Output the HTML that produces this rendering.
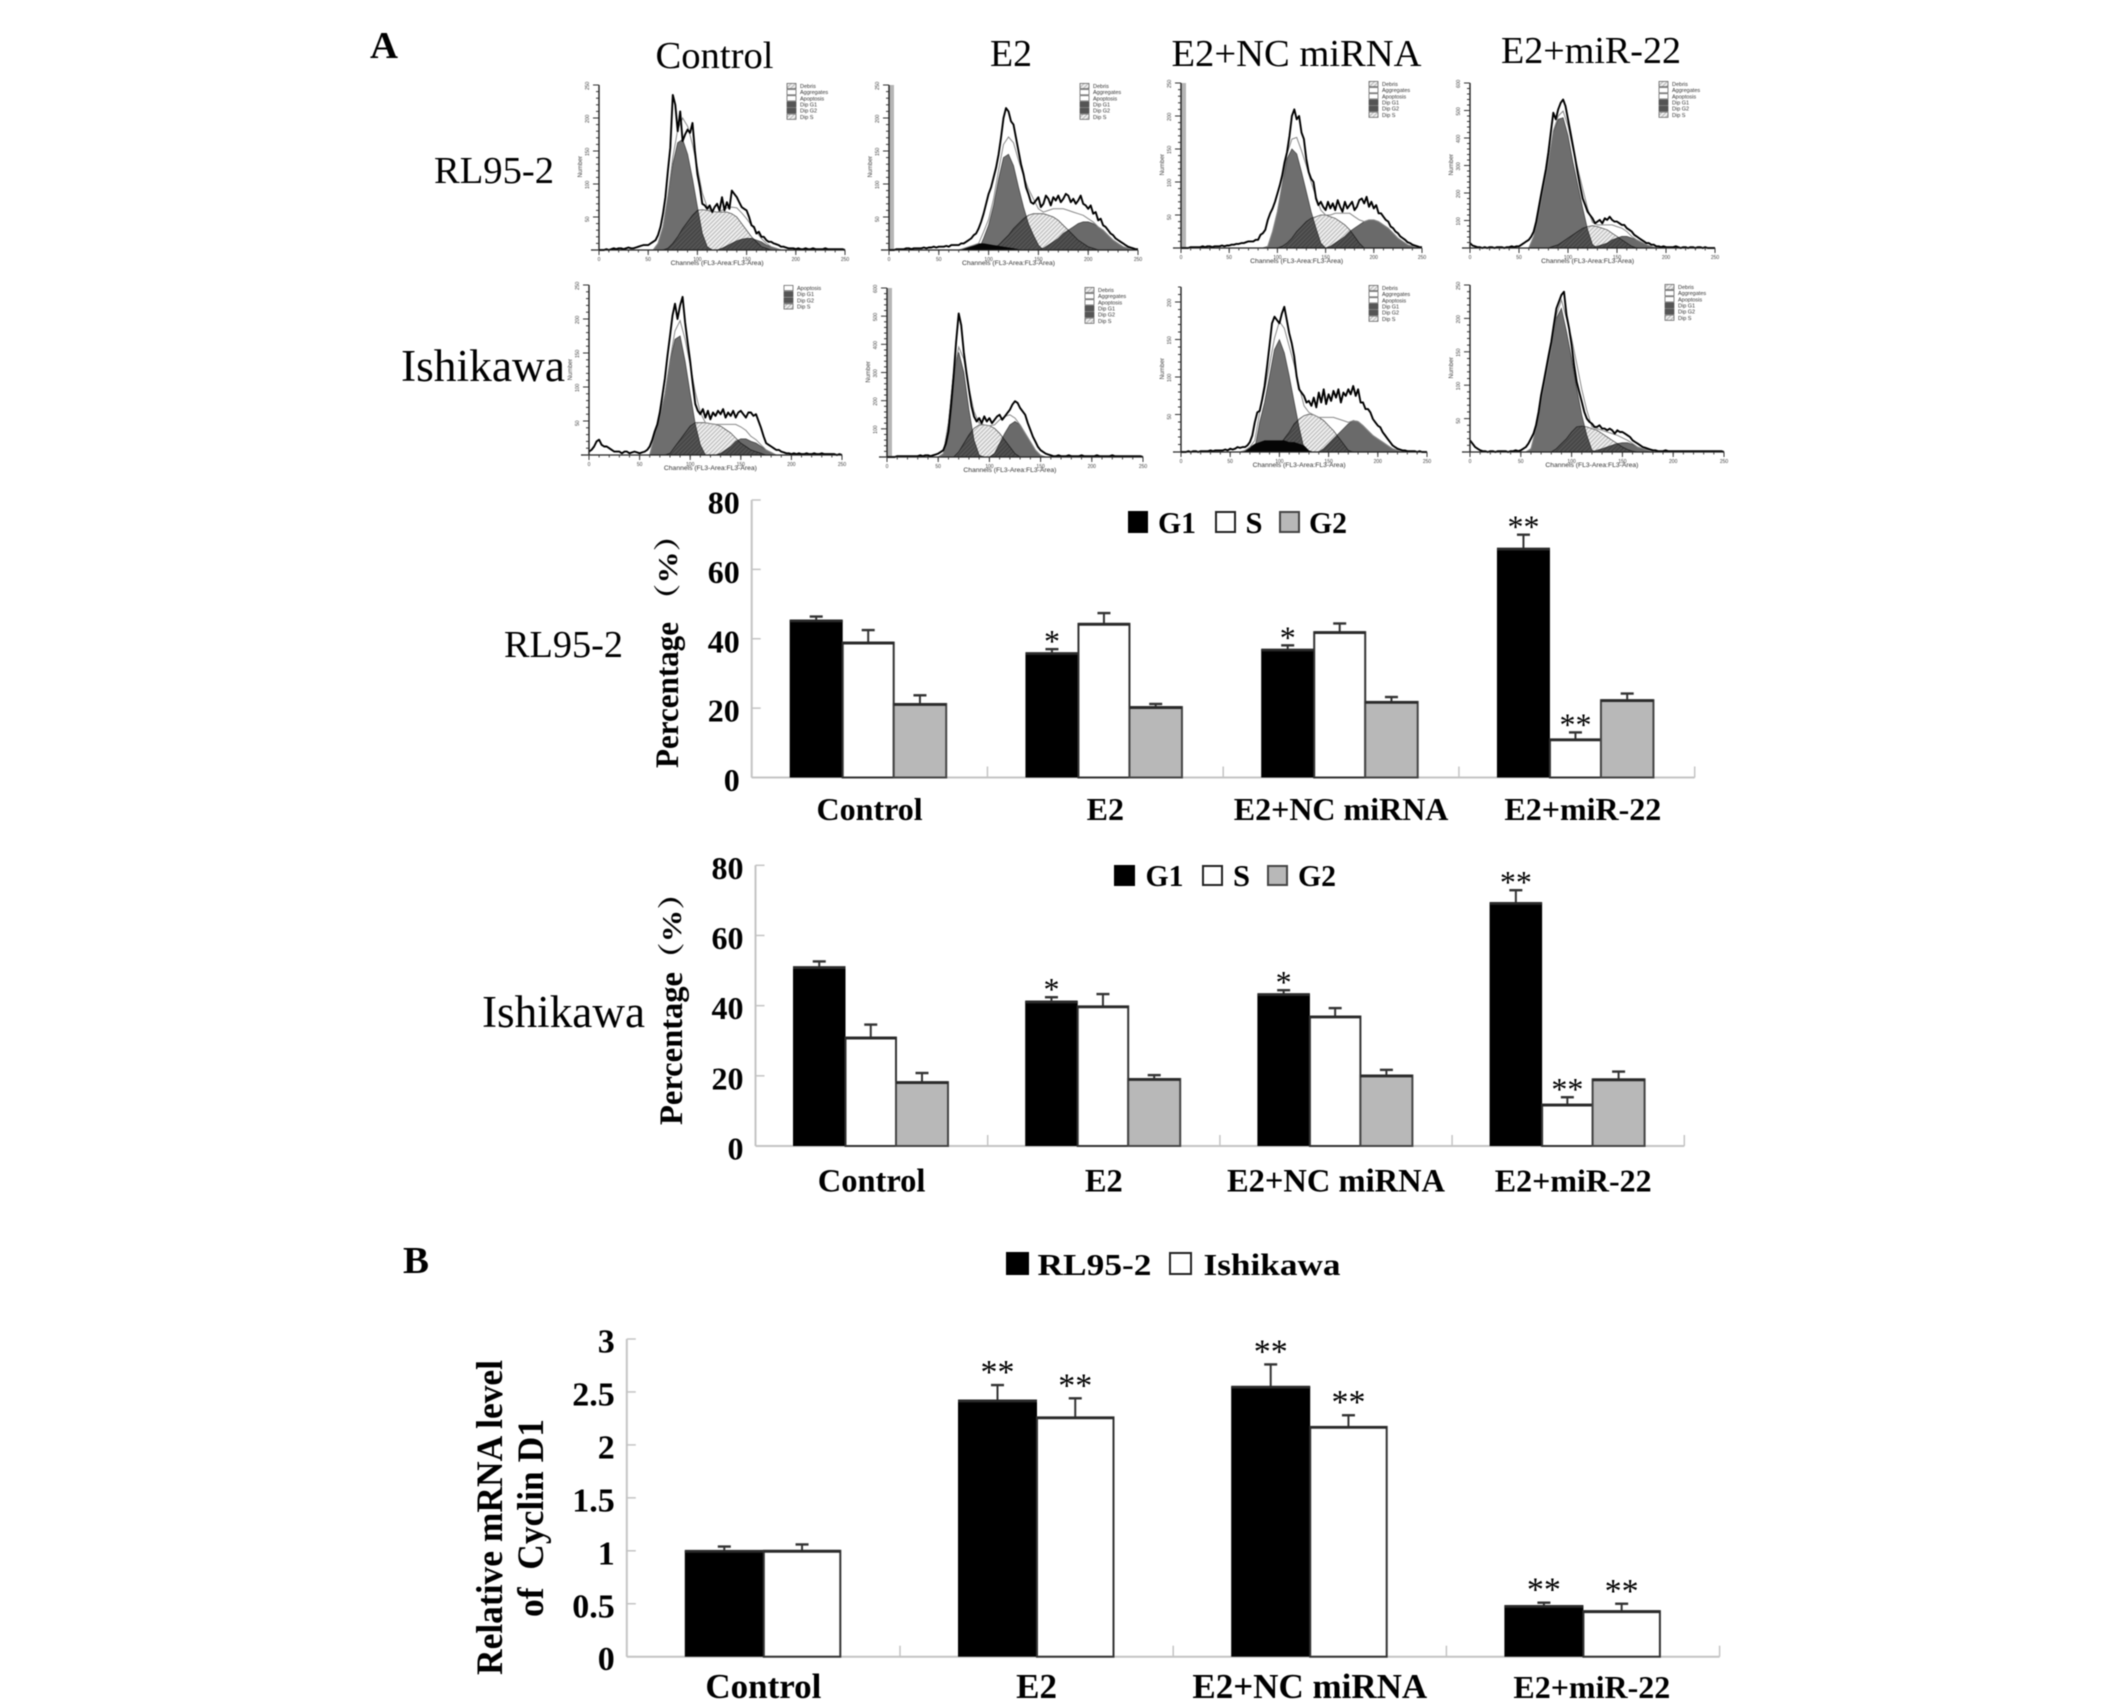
<!DOCTYPE html>
<html lang="en">
<head>
<meta charset="utf-8">
<title>Cell cycle and Cyclin D1 figure</title>
<style>
html,body{margin:0;padding:0;background:#fff;}
#figure{display:block;width:2126px;height:1708px;background:#fff;filter:blur(0.55px);}
text{font-family:"Liberation Serif","Noto Serif CJK SC",serif;fill:#000;}
.lbl{font-size:38px;}
.big{font-size:45px;}
.pl{font-size:38px;font-weight:bold;}
.bold{font-weight:bold;font-size:31px;}
.ytitle{font-weight:bold;font-size:33px;}
.yunit{font-weight:bold;font-size:27px;}
.ytall{font-weight:bold;font-size:37px;}
</style>
</head>
<body>
<svg id="figure" xmlns="http://www.w3.org/2000/svg" width="2126" height="1708" viewBox="0 0 2126 1708">
<defs>
<pattern id="hatch" patternUnits="userSpaceOnUse" width="3" height="3" patternTransform="rotate(45)">
<rect width="3" height="3" fill="#f2f2f2"/>
<rect width="1.2" height="3" fill="#bcbcbc"/>
</pattern>
</defs>
<rect x="0" y="0" width="2126" height="1708" fill="#fff"/>

<text class="pl" x="370" y="58" textLength="28" lengthAdjust="spacingAndGlyphs">A</text>
<text class="pl" x="403" y="1273" textLength="26" lengthAdjust="spacingAndGlyphs">B</text>

<text class="lbl" x="655.5" y="68" textLength="118" lengthAdjust="spacingAndGlyphs">Control</text>
<text class="lbl" x="990" y="66" textLength="42" lengthAdjust="spacingAndGlyphs">E2</text>
<text class="lbl" x="1171.5" y="66" textLength="250" lengthAdjust="spacingAndGlyphs">E2+NC miRNA</text>
<text class="lbl" x="1501" y="63" textLength="180" lengthAdjust="spacingAndGlyphs">E2+miR-22</text>

<text class="lbl" x="434" y="183" textLength="120" lengthAdjust="spacingAndGlyphs">RL95-2</text>
<text class="big" x="401" y="381" textLength="164" lengthAdjust="spacingAndGlyphs">Ishikawa</text>
<text class="lbl" x="504" y="657" textLength="119" lengthAdjust="spacingAndGlyphs">RL95-2</text>
<text class="big" x="482" y="1027" textLength="163" lengthAdjust="spacingAndGlyphs">Ishikawa</text>

<text class="ytitle" transform="translate(678,768) rotate(-90)" textLength="146" lengthAdjust="spacingAndGlyphs">Percentage</text>
<text class="yunit" transform="translate(677,616) rotate(-90)" textLength="97" lengthAdjust="spacingAndGlyphs">（%）</text>
<text class="ytitle" transform="translate(682,1125) rotate(-90)" textLength="153" lengthAdjust="spacingAndGlyphs">Percentage</text>
<text class="yunit" transform="translate(681,975) rotate(-90)" textLength="98" lengthAdjust="spacingAndGlyphs">（%）</text>
<text class="ytall" transform="translate(502,1675) rotate(-90)" textLength="315" lengthAdjust="spacingAndGlyphs">Relative mRNA level</text>
<text class="ytall" transform="translate(543,1617) rotate(-90)" textLength="198" lengthAdjust="spacingAndGlyphs" xml:space="preserve">of  Cyclin D1</text>

<g>
<rect x="1128" y="511" width="20" height="22" fill="#000"/>
<text class="bold" x="1158" y="533" textLength="38" lengthAdjust="spacingAndGlyphs">G1</text>
<rect x="1216" y="512" width="19" height="20" fill="#fff" stroke="#222" stroke-width="2"/>
<text class="bold" x="1245.5" y="533" textLength="17" lengthAdjust="spacingAndGlyphs">S</text>
<rect x="1280" y="512" width="19" height="20" fill="#b8b8b8" stroke="#444" stroke-width="2"/>
<text class="bold" x="1309" y="533" textLength="38" lengthAdjust="spacingAndGlyphs">G2</text>
</g>
<g>
<rect x="1114" y="865" width="21" height="21" fill="#000"/>
<text class="bold" x="1145.5" y="886" textLength="38" lengthAdjust="spacingAndGlyphs">G1</text>
<rect x="1203" y="866" width="19" height="19" fill="#fff" stroke="#222" stroke-width="2"/>
<text class="bold" x="1233" y="886" textLength="17" lengthAdjust="spacingAndGlyphs">S</text>
<rect x="1268" y="866" width="19" height="19" fill="#b8b8b8" stroke="#444" stroke-width="2"/>
<text class="bold" x="1298" y="886" textLength="38" lengthAdjust="spacingAndGlyphs">G2</text>
</g>
<g>
<rect x="1006" y="1252" width="23" height="23" fill="#000"/>
<text class="bold" x="1037.5" y="1275" textLength="114" lengthAdjust="spacingAndGlyphs">RL95-2</text>
<rect x="1170" y="1253" width="21" height="21" fill="#fff" stroke="#222" stroke-width="2"/>
<text class="bold" x="1203.5" y="1275" textLength="137" lengthAdjust="spacingAndGlyphs">Ishikawa</text>
</g>
</svg>

<script>
// ---------- Bar chart data: RL95-2 ----------
const rlCategories = ["Control", "E2", "E2+NC miRNA", "E2+miR-22"];
const rlTickValues = [0, 20, 40, 60, 80];
const rlTickLabels = ["0", "20", "40", "60", "80"];
const rlG1 = [45.3, 35.9, 36.9, 66];
const rlG1ErrTop = [46.4, 37, 38.1, 70];
const rlG1Stars = ["", "*", "*", "**"];
const rlS = [38.9, 44.3, 41.9, 11];
const rlSErrTop = [42.5, 47.4, 44.4, 13];
const rlSStars = ["", "", "", "**"];
const rlG2 = [21.2, 20.3, 21.8, 22.3];
const rlG2ErrTop = [23.7, 21.2, 23.2, 24.2];
const rlG2Stars = ["", "", "", ""];

// ---------- Bar chart data: Ishikawa ----------
const isCategories = ["Control", "E2", "E2+NC miRNA", "E2+miR-22"];
const isTickValues = [0, 20, 40, 60, 80];
const isTickLabels = ["0", "20", "40", "60", "80"];
const isG1 = [51, 41.2, 43.3, 69.3];
const isG1ErrTop = [52.6, 42.4, 44.4, 72.9];
const isG1Stars = ["", "*", "*", "**"];
const isS = [30.9, 39.8, 36.9, 11.8];
const isSErrTop = [34.6, 43.3, 39.3, 13.9];
const isSStars = ["", "", "", "**"];
const isG2 = [18.2, 19.1, 20.1, 19];
const isG2ErrTop = [20.8, 20.2, 21.7, 21.2];
const isG2Stars = ["", "", "", ""];

// ---------- Bar chart data: Cyclin D1 ----------
const cyCategories = ["Control", "E2", "E2+NC miRNA", "E2+miR-22"];
const cyTickValues = [0, 0.5, 1, 1.5, 2, 2.5, 3];
const cyTickLabels = ["0", "0.5", "1", "1.5", "2", "2.5", "3"];
const cyRl = [1, 2.42, 2.55, 0.48];
const cyRlErrTop = [1.04, 2.565, 2.76, 0.51];
const cyRlStars = ["", "**", "**", "**"];
const cyIs = [1, 2.26, 2.17, 0.43];
const cyIsErrTop = [1.06, 2.44, 2.28, 0.5];
const cyIsStars = ["", "**", "**", "**"];

// ---------- Flow histograms, % of axis height ----------
// Outlines: one value per 2.5 channels, channels 0..250. Fits: one value per 5 channels.
const p1Outline = [0,0,0,.5,0,.5,1,.5,1,1, .5,1,1.5,1,1,1.5,2,2.5,3,3, 3,4,5,6,9,14,22,32,48,62, 94,88,72,84,66,70,73,71,77,60, 46,38,28,27,25,27,23,26,28,24, 32,24,29,25,36,34,32,29,26,25, 24,20,15,14,10,11,8,8,6,5, 5,4,3.5,3,2,2,1.5,1,1,1, .5,1,.5,.5,1,.5,.5,1,.5,.5, .5,.5,1,.5,.5,.5,.5,.5,.5,.5, 0];
const p1G1 = [0,0,0,0,0,0,0,0,0,0, 0,0,4,14,32,52,65,67,58,43, 26,10,2,0,0,0,0,0,0,0, 0,0,0,0,0,0,0,0,0,0, 0,0,0,0,0,0,0,0,0,0, 0];
const p1S = [0,0,0,0,0,0,0,0,0,0, 0,0,0,0,1,4,8,13,17,21, 24,24.5,24,23.5,23,23,23,22,20,16, 12,8,5,2,1,0,0,0,0,0, 0,0,0,0,0,0,0,0,0,0, 0];
const p1G2 = [0,0,0,0,0,0,0,0,0,0, 0,0,0,0,0,0,0,0,0,0, 0,0,0,0,0,1,2.5,4,5.5,6.5, 7,7,6,5,3,2,1,0,0,0, 0,0,0,0,0,0,0,0,0,0, 0];

const p2Outline = [0,0,0,.5,.5,.5,.5,1,1,.5, 1,1,1,1,1.5,1,1.5,1.5,2,1.5, 2,2,2,2.5,2,3,3,3,3,4, 4,5,6,7,9,10,13,17,22,28, 34,38,44,50,58,68,80,86,84,78, 76,68,60,52,46,38,34,29,28,30, 32,26,28,33,31,27,32,30,33,29, 31,34,33,29,31,28,30,33,28,27, 25,27,22,23,18,19,15,14,12,10, 9,7,6,5,4,3,2,1.5,1,.5, .5];
const p2G1 = [0,0,0,0,0,0,0,0,0,0, 0,0,0,0,0,0,0,0,0,7, 15,27,43,56,58,51,38,26,16,9, 3,0,0,0,0,0,0,0,0,0, 0,0,0,0,0,0,0,0,0,0, 0];
const p2S = [0,0,0,0,0,0,0,0,0,0, 0,0,0,0,0,0,0,0,0,0, 0,1,3,6,9,13,16,19,21,22, 22,22,21,20,18,15,12,9,6,4, 2,1,0,0,0,0,0,0,0,0, 0];
const p2G2 = [0,0,0,0,0,0,0,0,0,0, 0,0,0,0,0,0,0,0,0,0, 0,0,0,0,0,0,0,0,0,0, 0,1,3,5,7,10,12,14,16,17, 17,16,14,12,9,6,4,2,1,0, 0];
const p2Debris = [0,0,0,0,0,0,0,0,0,0, 0,0,0,0,0,1,2,3,4,4, 3.5,3,2.5,2,1.5,1,.5,0,0,0, 0,0,0,0,0,0,0,0,0,0, 0,0,0,0,0,0,0,0,0,0, 0];

const p3Outline = [0,0,0,0,.5,.5,.5,.5,.5,1, .5,1,1,.5,1,1,1,1.5,1,1.5, 1.5,2,2,2.5,2.5,3,3,3.5,4,4, 4,5,5,8,9,11,17,21,24,28, 33,38,44,52,58,68,80,84,78,80, 70,66,54,46,42,40,30,26,28,25, 23,28,24,27,23,29,25,22,28,24, 26,28,23,25,29,30,27,31,25,28, 24,26,21,21,19,17,16,13,12,10, 9,7,6,5,3.5,3,2,1.5,1,.5, .5];
const p3G1 = [0,0,0,0,0,0,0,0,0,0, 0,0,0,0,0,0,0,0,1,10, 22,38,54,60,57,46,34,22,12,3, 0,0,0,0,0,0,0,0,0,0, 0,0,0,0,0,0,0,0,0,0, 0];
const p3S = [0,0,0,0,0,0,0,0,0,0, 0,0,0,0,0,0,0,0,0,0, 0,1,3,6,10,13,16,18,19,20, 20,19,18,16,14,11,7,3,0,0, 0,0,0,0,0,0,0,0,0,0, 0];
const p3G2 = [0,0,0,0,0,0,0,0,0,0, 0,0,0,0,0,0,0,0,0,0, 0,0,0,0,0,0,0,0,0,0, 0,1,3,5,7,10,12,14,16,17, 17,16,14,12,9,6,4,2,1,0, 0];

const p4Outline = [3,1.5,1,.5,.5,0,.5,0,.5,.5, 0,.5,.5,.5,0,.5,.5,1,.5,1, 1,2,3,4,5,7,10,16,24,32, 40,48,58,70,82,78,84,88,90,86, 78,70,62,54,45,37,30,26,22,20, 18,15,16,17,15,18,17,19,17,16, 16,15,14,14,12,11,10,8,7,6, 5,4,3,3,2,2,1,1,.5,1, .5,.5,.5,.5,1,.5,0,.5,.5,0, .5,.5,0,.5,.5,0,.5,0,0,0, 0];
const p4G1 = [0,0,0,0,0,0,0,0,0,0, 0,0,0,7,20,36,52,70,78,79, 68,52,38,24,11,2,0,0,0,0, 0,0,0,0,0,0,0,0,0,0, 0,0,0,0,0,0,0,0,0,0, 0];
const p4S = [0,0,0,0,0,0,0,0,0,0, 0,0,0,0,0,0,0,1,2,4, 6,8,10,12,13,13.5,13,12,11,9, 7,5,3,1,0,0,0,0,0,0, 0,0,0,0,0,0,0,0,0,0, 0];
const p4G2 = [0,0,0,0,0,0,0,0,0,0, 0,0,0,0,0,0,0,0,0,0, 0,0,0,0,0,0,1,2,3,5, 6,7,7,6,5,3.5,2,1,0,0, 0,0,0,0,0,0,0,0,0,0, 0];

const p5Outline = [2,3,5,8,9,6,5,5,4,3, 2,2,2,1,2,2,1,1.5,2,1.5, 1,1.5,2,3,5,9,14,18,25,35, 45,58,70,82,89,80,88,93,78,66, 55,42,30,26,24,27,22,26,21,25, 23,26,24,27,22,25,23,26,22,25, 26,24,22,25,25,23,24,20,16,11, 7,6,5,4,3,3,2,1.5,1,1, .5,1,.5,1,.5,.5,1,.5,.5,1, .5,.5,1,.5,.5,.5,.5,.5,0,.5, 0];
const p5G1 = [0,0,0,0,0,0,0,0,0,0, 0,0,0,12,22,36,55,68,70,55, 36,18,6,0,0,0,0,0,0,0, 0,0,0,0,0,0,0,0,0,0, 0,0,0,0,0,0,0,0,0,0, 0];
const p5S = [0,0,0,0,0,0,0,0,0,0, 0,0,0,0,0,0,1,5,9,13, 17,19,19,19,18.5,18,17,15,13,10, 7,5,3,2,1,0,0,0,0,0, 0,0,0,0,0,0,0,0,0,0, 0];
const p5G2 = [0,0,0,0,0,0,0,0,0,0, 0,0,0,0,0,0,0,0,0,0, 0,0,0,0,0,0,1,3,5,8, 9.5,9.5,8,7,5,3,1.5,0,0,0, 0,0,0,0,0,0,0,0,0,0, 0];

const p6Outline = [0,0,0,0,.5,.5,.5,.5,.5,.5, .5,.5,.5,1,.5,1,1,.5,1,1.5, 2,3,4,8,15,30,48,68,85,78, 62,50,40,30,24,21,23,20,24,21, 23,20,22,24,25,22,24,26,28,31, 33,32,29,27,25,20,16,12,9,6, 4,3,2,1.5,1,.5,.5,1,.5,.5, .5,1,.5,.5,.5,.5,1,.5,.5,.5, .5,.5,1,.5,.5,.5,.5,.5,1,.5, .5,.5,.5,.5,.5,.5,.5,.5,.5,.5, 0];
const p6G1 = [0,0,0,0,0,0,0,0,0,0, 0,2,20,50,62,50,28,10,1,0, 0,0,0,0,0,0,0,0,0,0, 0,0,0,0,0,0,0,0,0,0, 0,0,0,0,0,0,0,0,0,0, 0];
const p6S = [0,0,0,0,0,0,0,0,0,0, 0,0,0,0,3,8,13,17,19,19, 18.5,17,14,10,6,2,0,0,0,0, 0,0,0,0,0,0,0,0,0,0, 0,0,0,0,0,0,0,0,0,0, 0];
const p6G2 = [0,0,0,0,0,0,0,0,0,0, 0,0,0,0,0,0,0,0,0,0, 0,2,8,14,19,21,19,14,9,4, 1,0,0,0,0,0,0,0,0,0, 0,0,0,0,0,0,0,0,0,0, 0];

const p7Outline = [0,0,0,.5,0,.5,.5,0,.5,.5, .5,.5,1,.5,1,1,1,1,1.5,1, 2,1.5,2,3,2.5,3,3,4,6,10, 18,24,25,32,40,52,65,78,82,80, 78,84,88,80,72,66,58,46,38,36, 34,30,31,28,33,27,36,30,38,29, 35,31,37,33,38,30,36,34,38,35, 40,34,38,30,30,26,26,24,20,18, 16,15,12,10,8,6,4,3,2,1.5, 1,1,.5,.5,.5,.5,0,.5,0,0, 0];
const p7G1 = [0,0,0,0,0,0,0,0,0,0, 0,0,0,0,0,2,18,30,46,62, 68,60,46,30,15,2,0,0,0,0, 0,0,0,0,0,0,0,0,0,0, 0,0,0,0,0,0,0,0,0,0, 0];
const p7S = [0,0,0,0,0,0,0,0,0,0, 0,0,0,0,0,0,0,0,0,0, 4,8,12,17,20,22,23,22.5,21,19, 16,13,9,5,1,0,0,0,0,0, 0,0,0,0,0,0,0,0,0,0, 0];
const p7G2 = [0,0,0,0,0,0,0,0,0,0, 0,0,0,0,0,0,0,0,0,0, 0,0,0,0,0,0,0,0,0,2, 5,8,11,14,17,19,18.5,16,13,10, 8,6,4,2,1,0,0,0,0,0, 0];
const p7Debris = [0,0,0,0,0,0,0,0,0,0, 0,0,0,1,3,5,6,7,7,7, 7,7,6,6,5,4,1,0,0,0, 0,0,0,0,0,0,0,0,0,0, 0,0,0,0,0,0,0,0,0,0, 0];

const p8Outline = [7,5,3,2,1,.5,.5,0,.5,.5, 0,.5,.5,.5,.5,0,.5,.5,1,.5, 1,2,3,5,8,11,16,24,34,42, 50,58,66,76,86,90,94,96,82,74, 64,52,42,36,30,24,20,18,17,15, 15,16,14,14,13,14,13,11,13,12, 12,11,10,9,7,6,5,4,3,2.5, 2,1.5,1,1,.5,.5,.5,1,.5,.5, .5,.5,.5,.5,.5,.5,.5,.5,.5,.5, .5,.5,.5,.5,.5,.5,.5,.5,.5,.5, 0];
const p8G1 = [0,0,0,0,0,0,0,0,0,0, 0,0,2,14,30,46,62,80,86,72, 56,38,22,10,1,0,0,0,0,0, 0,0,0,0,0,0,0,0,0,0, 0,0,0,0,0,0,0,0,0,0, 0];
const p8S = [0,0,0,0,0,0,0,0,0,0, 0,0,0,0,0,0,0,2,5,8, 12,15,15.5,15,14,13,11,9,7,5, 3,1.5,.5,0,0,0,0,0,0,0, 0,0,0,0,0,0,0,0,0,0, 0];
const p8G2 = [0,0,0,0,0,0,0,0,0,0, 0,0,0,0,0,0,0,0,0,0, 0,0,0,0,0,1,2,3,4,5, 5.5,5.5,4.5,3,2,1,0,0,0,0, 0,0,0,0,0,0,0,0,0,0, 0];

const legendSix = ["Debris", "Aggregates", "Apoptosis", "Dip G1", "Dip G2", "Dip S"];
const legendFour = ["Apoptosis", "Dip G1", "Dip G2", "Dip S"];
const axisChannelLabels = ["0", "50", "100", "150", "200", "250"];

const root = document.getElementById('figure');
const SVG_NS = 'http://www.w3.org/2000/svg';

function node(tag, parent, attrs) {
  const el = document.createElementNS(SVG_NS, tag);
  for (const k in attrs) el.setAttribute(k, attrs[k]);
  parent.appendChild(el);
  return el;
}

function areaPath(values, xOf, yOf) {
  let d = 'M' + xOf(0) + ' ' + yOf(0);
  values.forEach(function (v, i) { d += 'L' + xOf(i * 5).toFixed(1) + ' ' + yOf(v).toFixed(1); });
  d += 'L' + xOf((values.length - 1) * 5) + ' ' + yOf(0) + 'Z';
  return d;
}

function linePath(values, channelStep, xOf, yOf) {
  return values.map(function (v, i) { return (i ? 'L' : 'M') + xOf(i * channelStep).toFixed(1) + ' ' + yOf(v).toFixed(1); }).join('');
}

function legendFill(label) {
  if (label === 'Dip G1' || label === 'Dip G2') return '#555';
  if (label === 'Dip S' || label === 'Debris') return 'url(#hatch)';
  return '#fff';
}

function drawPanel(p) {
  const g = node('g', root, {});
  
  
  const xOf = function (ch) { return p.x0 + ch / 250 * (p.x1 - p.x0); };
  const yOf = function (v) { return p.base - v / 100 * (p.base - p.top); };

  if (p.gate) {
    const band = node('rect', g, { x: p.x0, y: p.top, width: 5, height: p.base - p.top, fill: '#b5b5b5' });
    
    
  }

  const g1Area = node('path', g, { d: areaPath(p.g1, xOf, yOf), fill: '#6e6e6e', stroke: '#444', 'stroke-width': 0.8 });
  
  
  const g2Area = node('path', g, { d: areaPath(p.g2, xOf, yOf), fill: '#6a6a6a', stroke: '#444', 'stroke-width': 0.8 });
  
  
  const sArea = node('path', g, { d: areaPath(p.s, xOf, yOf), fill: 'url(#hatch)', stroke: '#555', 'stroke-width': 0.8, style: 'mix-blend-mode:multiply' });
  
  

  const clip = node('clipPath', g, { id: 'overlap-' + p.name });
  
  
  const clipG1 = node('path', clip, { d: areaPath(p.g1, xOf, yOf) });
  
  
  const clipG2 = node('path', clip, { d: areaPath(p.g2, xOf, yOf) });
  
  
  const overlap = node('path', g, { d: areaPath(p.s, xOf, yOf), fill: '#000', 'fill-opacity': 0.18, 'clip-path': 'url(#overlap-' + p.name + ')' });
  
  

  if (p.debris) {
    const debris = node('path', g, { d: areaPath(p.debris, xOf, yOf), fill: '#050505' });
    
    
  }

  const total = p.g1.map(function (v, i) { return v + p.s[i] + p.g2[i] + (p.debris ? p.debris[i] : 0); });
  const fit = node('path', g, { d: linePath(total, 5, xOf, yOf), fill: 'none', stroke: '#8a8a8a', 'stroke-width': 1 });
  
  
  const outline = node('path', g, { d: linePath(p.outline, 2.5, xOf, yOf), fill: 'none', stroke: '#000', 'stroke-width': 1.9, 'stroke-linejoin': 'round' });
  
  

  const yAxis = node('line', g, { x1: p.x0, x2: p.x0, y1: p.top, y2: p.base, stroke: '#222', 'stroke-width': 1.4 });
  
  
  const xAxis = node('line', g, { x1: p.x0 - 8, x2: p.x1, y1: p.base, y2: p.base, stroke: '#222', 'stroke-width': 1.2 });
  
  

  for (let m = 0; m * p.yStep / 5 <= p.yMax; m++) {
    const isMajor = m % 5 === 0;
    const y = yOf(m * p.yStep / 5 / p.yMax * 100);
    const tick = node('line', g, { x1: p.x0 - (isMajor ? 6 : 3), x2: p.x0, y1: y, y2: y, stroke: '#333', 'stroke-width': 1 });
    
    
    if (isMajor && m > 0) {
      const lab = node('text', g, { transform: 'translate(' + (p.x0 - 10) + ',' + (y + 5) + ') rotate(-90)', style: 'font:5px "Liberation Sans",sans-serif;fill:#444' });
      lab.textContent = String(m * p.yStep / 5);
      
      
    }
  }
  for (let ch = 10; ch < 250; ch += 10) {
    const minor = node('line', g, { x1: xOf(ch), x2: xOf(ch), y1: p.base, y2: p.base + 2.5, stroke: '#333', 'stroke-width': 0.9 });
    
    
  }
  axisChannelLabels.forEach(function (label, i) {
    const x = xOf(i * 50);
    const tick = node('line', g, { x1: x, x2: x, y1: p.base, y2: p.base + 5, stroke: '#333', 'stroke-width': 1 });
    
    
    const lab = node('text', g, { x: x, y: p.base + 11, 'text-anchor': 'middle', style: 'font:5px "Liberation Sans",sans-serif;fill:#444' });
    lab.textContent = label;
    
    
  });

  const xTitle = node('text', g, { x: p.x0 + (p.x1 - p.x0) * 0.48, y: p.base + 15, 'text-anchor': 'middle', textLength: 93, lengthAdjust: 'spacingAndGlyphs', style: 'font:6.5px "Liberation Sans",sans-serif;fill:#333' });
  xTitle.textContent = 'Channels (FL3-Area:FL3-Area)';
  
  
  const yTitle = node('text', g, { transform: 'translate(' + (p.x0 - 17) + ',' + (p.top + (p.base - p.top) * 0.56) + ') rotate(-90)', style: 'font:6px "Liberation Sans",sans-serif;fill:#444' });
  yTitle.textContent = 'Number';
  
  

  p.legend.forEach(function (label, i) {
    const y = p.legendY + i * 6.15;
    const sw = node('rect', g, { x: p.legendX, y: y - 2.6, width: 9, height: 5.2, fill: legendFill(label), stroke: '#555', 'stroke-width': 0.7 });
    
    
    const t = node('text', g, { x: p.legendX + 13, y: y + 2, style: 'font:5.5px "Liberation Sans",sans-serif;fill:#333' });
    t.textContent = label;
    
    
  });
}

function drawBarChart(c) {
  const g = node('g', root, {});
  
  
  const yOf = function (v) { return c.y0 + (c.yTop - c.y0) * v / c.yMax; };
  const bandX = function (i) { return c.x0 + i * c.step; };

  const yAxis = node('line', g, { x1: c.x0, x2: c.x0, y1: c.yTop, y2: c.y0, stroke: '#c4c4c4', 'stroke-width': 2 });
  
  
  const xAxis = node('line', g, { x1: c.x0, x2: c.x0 + c.categories.length * c.step, y1: c.y0, y2: c.y0, stroke: '#c4c4c4', 'stroke-width': 2 });
  
  

  c.tickValues.forEach(function (v, i) {
    const y = yOf(v);
    const tick = node('line', g, { x1: c.x0, x2: c.x0 + 9, y1: y, y2: y, stroke: '#c4c4c4', 'stroke-width': 1.5 });
    
    
    const lab = node('text', g, { x: c.x0 - 12, y: y + 13.5, 'text-anchor': 'end', 'font-weight': 'bold', 'font-size': c.tickSize });
    lab.textContent = c.tickLabels[i];
    
    
  });

  c.categories.forEach(function (name, i) {
    const divider = node('line', g, { x1: bandX(i + 1), x2: bandX(i + 1), y1: c.y0 - 11, y2: c.y0, stroke: '#c4c4c4', 'stroke-width': 1.5 });
    
    
    const isLast = i === c.categories.length - 1;
    const lab = node('text', g, { x: bandX(i) + c.step / 2 + (isLast ? c.lastNudge : 0), y: c.labelY, 'text-anchor': 'middle', 'font-weight': 'bold', 'font-size': isLast ? c.lastLabelSize : c.labelSize });
    lab.textContent = name;
    
    
  });

  let cursor = c.barOffset;
  c.series.forEach(function (s) {
    s.values.forEach(function (v, i) {
      const left = bandX(i) + cursor;
      const cx = left + s.width / 2;
      const top = yOf(v);
      const errY = yOf(s.errTop[i]);
      const stem = node('line', g, { x1: cx, x2: cx, y1: errY, y2: top, stroke: '#333', 'stroke-width': 2 });
      
      
      const cap = node('line', g, { x1: cx - 6.5, x2: cx + 6.5, y1: errY, y2: errY, stroke: '#333', 'stroke-width': 2.4 });
      
      
      const bar = node('rect', g, { x: left, y: top, width: s.width, height: c.y0 - top, fill: s.fill, stroke: s.stroke, 'stroke-width': s.fill === '#000' ? 0 : 2 });
      
      
      const edge = node('line', g, { x1: left, x2: left + s.width, y1: top + 0.5, y2: top + 0.5, stroke: '#2a2a2a', 'stroke-width': 2.8 });
      
      
      if (s.stars[i]) {
        const star = node('text', g, { x: cx, y: errY + c.starGap, 'text-anchor': 'middle', 'font-size': c.starSize });
        star.textContent = s.stars[i];
        
        
      }
    });
    cursor += s.width;
  });
}

const panels = [
  { name: 'rl95-control', x0: 599, x1: 845, top: 85, base: 250, outline: p1Outline, g1: p1G1, s: p1S, g2: p1G2, yMax: 250, yStep: 50, legend: legendSix, legendX: 787, legendY: 86 },
  { name: 'rl95-e2', x0: 889, x1: 1138, top: 85, base: 250, outline: p2Outline, g1: p2G1, s: p2S, g2: p2G2, debris: p2Debris, gate: true, yMax: 250, yStep: 50, legend: legendSix, legendX: 1080, legendY: 86 },
  { name: 'rl95-nc', x0: 1181, x1: 1422, top: 83, base: 248, outline: p3Outline, g1: p3G1, s: p3S, g2: p3G2, gate: true, yMax: 250, yStep: 50, legend: legendSix, legendX: 1369, legendY: 84 },
  { name: 'rl95-mir22', x0: 1470, x1: 1715, top: 83, base: 248, outline: p4Outline, g1: p4G1, s: p4S, g2: p4G2, yMax: 600, yStep: 100, legend: legendSix, legendX: 1659, legendY: 84 },
  { name: 'ishikawa-control', x0: 589, x1: 842, top: 285, base: 455, outline: p5Outline, g1: p5G1, s: p5S, g2: p5G2, yMax: 250, yStep: 50, legend: legendFour, legendX: 784, legendY: 288 },
  { name: 'ishikawa-e2', x0: 887, x1: 1143, top: 288, base: 457, outline: p6Outline, g1: p6G1, s: p6S, g2: p6G2, gate: true, yMax: 600, yStep: 100, legend: legendSix, legendX: 1085, legendY: 290 },
  { name: 'ishikawa-nc', x0: 1181, x1: 1427, top: 287, base: 452, outline: p7Outline, g1: p7G1, s: p7S, g2: p7G2, debris: p7Debris, yMax: 220, yStep: 50, legend: legendSix, legendX: 1369, legendY: 288 },
  { name: 'ishikawa-mir22', x0: 1470, x1: 1724, top: 285, base: 452, outline: p8Outline, g1: p8G1, s: p8S, g2: p8G2, yMax: 250, yStep: 50, legend: legendSix, legendX: 1665, legendY: 287 }
];
panels.forEach(drawPanel);

drawBarChart({
  name: 'chart-rl95-cell-cycle', x0: 751.7, step: 235.75, y0: 777.5, yTop: 500, yMax: 80, barOffset: 38,
  categories: rlCategories, tickValues: rlTickValues, tickLabels: rlTickLabels, tickSize: 32,
  labelY: 820, labelSize: 32, lastLabelSize: 32, lastNudge: 6, starGap: 3, starSize: 32,
  series: [
    { key: 'g1', values: rlG1, errTop: rlG1ErrTop, stars: rlG1Stars, fill: '#000', stroke: '#000', width: 53 },
    { key: 's', values: rlS, errTop: rlSErrTop, stars: rlSStars, fill: '#fff', stroke: '#333', width: 51 },
    { key: 'g2', values: rlG2, errTop: rlG2ErrTop, stars: rlG2Stars, fill: '#b8b8b8', stroke: '#444', width: 52.5 }
  ]
});
drawBarChart({
  name: 'chart-ishikawa-cell-cycle', x0: 755.5, step: 232.2, y0: 1146, yTop: 865.3, yMax: 80, barOffset: 37.5,
  categories: isCategories, tickValues: isTickValues, tickLabels: isTickLabels, tickSize: 32,
  labelY: 1191.5, labelSize: 32.5, lastLabelSize: 32, lastNudge: 5, starGap: 3, starSize: 32,
  series: [
    { key: 'g1', values: isG1, errTop: isG1ErrTop, stars: isG1Stars, fill: '#000', stroke: '#000', width: 52.5 },
    { key: 's', values: isS, errTop: isSErrTop, stars: isSStars, fill: '#fff', stroke: '#333', width: 50.5 },
    { key: 'g2', values: isG2, errTop: isG2ErrTop, stars: isG2Stars, fill: '#b8b8b8', stroke: '#444', width: 52 }
  ]
});
drawBarChart({
  name: 'chart-cyclin-d1', x0: 626.8, step: 273.2, y0: 1656.7, yTop: 1339, yMax: 3, barOffset: 58,
  categories: cyCategories, tickValues: cyTickValues, tickLabels: cyTickLabels, tickSize: 34,
  labelY: 1698, labelSize: 35, lastLabelSize: 32, lastNudge: 8.8, starGap: -2, starSize: 34,
  series: [
    { key: 'rl95-2', values: cyRl, errTop: cyRlErrTop, stars: cyRlStars, fill: '#000', stroke: '#000', width: 79 },
    { key: 'ishikawa', values: cyIs, errTop: cyIsErrTop, stars: cyIsStars, fill: '#fff', stroke: '#333', width: 76.5 }
  ]
});
</script>
</body>
</html>
